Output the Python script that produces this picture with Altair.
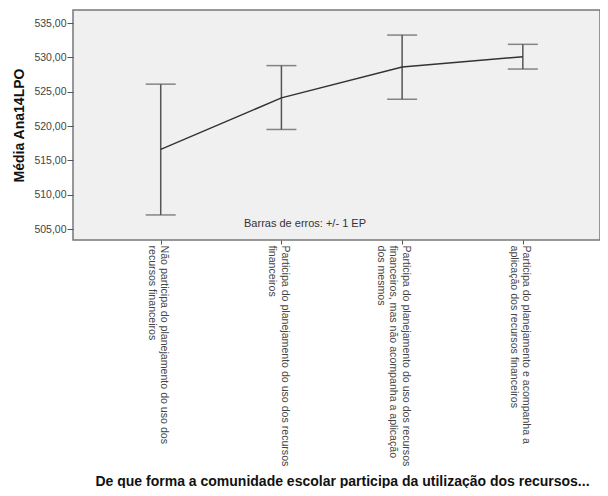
import altair as alt
import pandas as pd

categories = [
    "Não participa do planejamento do uso dos\nrecursos financeiros",
    "Participa do planejamento do uso dos recursos\nfinanceiros",
    "Participa do planejamento do uso dos recursos\nfinanceiros, mas não acompanha a aplicação\ndos mesmos",
    "Participa do planejamento e acompanha a\naplicação dos recursos financeiros",
]
means = [516.6, 524.1, 528.6, 530.1]
upper = [526.1, 528.8, 533.25, 531.9]
lower = [507.05, 519.5, 523.9, 528.3]
y_ticks = [505, 510, 515, 520, 525, 530, 535]
note = "Barras de erros: +/- 1 EP"
x_title = "De que forma a comunidade escolar participa da utilização dos recursos..."
y_title = "Média Ana14LPO"

df = pd.DataFrame({"cat": categories, "mean": means, "hi": upper, "lo": lower})

FONT = "Liberation Sans"

x_enc = alt.X(
    "cat:N",
    sort=categories,
    scale=alt.Scale(type="point", padding=0.683, align=0.532),
    axis=alt.Axis(
        title=x_title,
        labelAngle=90,
        labelAlign="left",
        labelBaseline="alphabetic",
        labelExpr="split(datum.label, '\\n')",
        labelLimit=0,
        labelFontSize=10.6,
        labelLineHeight=12.5,
        labelColor="#444444",
        labelFont=FONT,
        tickSize=4,
        tickColor="#555555",
        labelPadding=1,
        domain=False,
        titleFont=FONT,
        titleFontSize=14,
        titleFontWeight="bold",
        titleColor="#111111",
        titleX=269,
        titleY=245,
        titleAlign="center",
        titleBaseline="alphabetic",
    ),
)

y_scale = alt.Scale(domain=[503.4, 536.9], nice=False, zero=False)
y_axis = alt.Axis(
    title=y_title,
    values=y_ticks,
    labelOverlap=False,
    labelExpr="replace(format(datum.value, '.2f'), '.', ',')",
    labelFontSize=10.5,
    labelColor="#444444",
    labelFont=FONT,
    tickSize=6,
    tickColor="#555555",
    labelPadding=1,
    grid=False,
    domain=False,
    titleFont=FONT,
    titleFontSize=14,
    titleFontWeight="bold",
    titleColor="#111111",
    titleX=-50,
    titleY=115,
    titleAngle=-90,
    titleAlign="center",
    titleBaseline="alphabetic",
)

base = alt.Chart(df)

line = base.mark_line(color="#333333", strokeWidth=1.5).encode(
    x=x_enc, y=alt.Y("mean:Q", scale=y_scale, axis=y_axis)
)
rule = base.mark_rule(color="#555555", strokeWidth=1.5).encode(
    x=x_enc, y=alt.Y("lo:Q", scale=y_scale, axis=y_axis), y2="hi:Q"
)
cap_hi = base.mark_tick(color="#555555", thickness=1.5, size=30).encode(
    x=x_enc, y=alt.Y("hi:Q", scale=y_scale, axis=y_axis)
)
cap_lo = base.mark_tick(color="#555555", thickness=1.5, size=30).encode(
    x=x_enc, y=alt.Y("lo:Q", scale=y_scale, axis=y_axis)
)
text = alt.Chart(pd.DataFrame({"t": [note]})).mark_text(
    font=FONT, fontSize=11, color="#333333", align="center", baseline="middle"
).encode(text="t:N", x=alt.value(232), y=alt.value(214))

chart = (
    alt.layer(rule, cap_hi, cap_lo, line, text)
    .properties(
        width=527,
        height=230,
        autosize="none",
        padding={"left": 65, "top": 2, "right": 0, "bottom": 248},
        background="white",
    )
    .configure_view(fill="#f0f0f0", stroke="#777777", strokeWidth=1.5)
)

chart.save("out.html", embed_options={"renderer": "svg", "actions": False})
